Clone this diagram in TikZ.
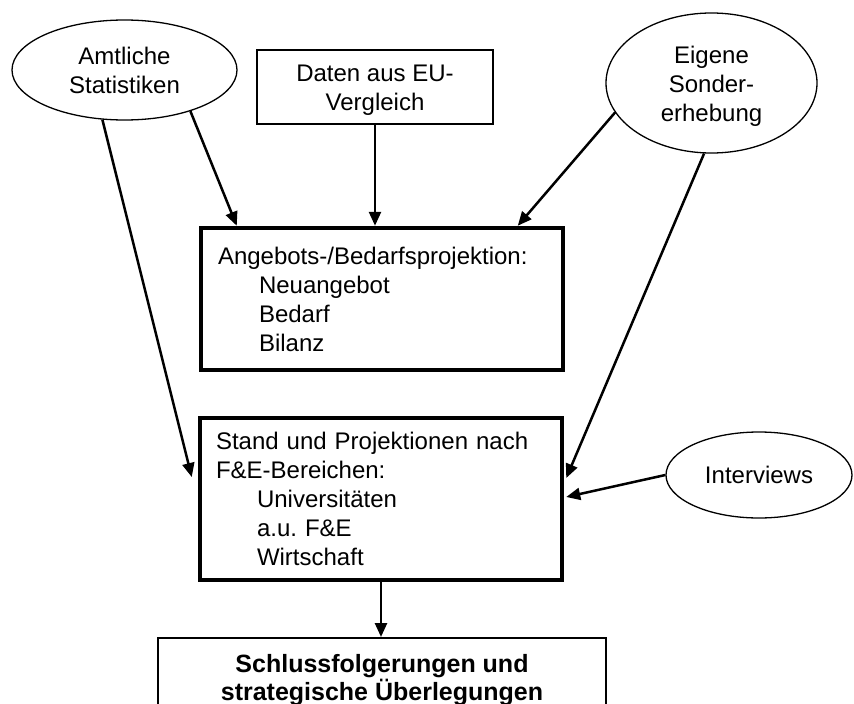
\documentclass[tikz,border=0pt]{standalone}
\usepackage{fontspec}
\setmainfont{Liberation Sans}
\usetikzlibrary{arrows.meta,calc,shapes.geometric}
\begin{document}
\begin{tikzpicture}[x=1pt,y=-1pt,
  txt/.style={font=\fontsize{24}{29}\selectfont},
  oval/.style={ellipse,draw,line width=1.3pt,inner sep=0pt,align=center,txt},
  thinbox/.style={rectangle,draw,line width=1.5pt,align=center,txt},
  thickbox/.style={rectangle,draw,line width=4.5pt,align=left,txt,inner xsep=0pt},
  arr/.style={line width=2.5pt,-{Triangle[length=14pt,width=12pt]}}
]
\clip (0,0) rectangle (854,704);
\fill[white] (0,0) rectangle (854,704);

\node[oval,minimum width=225pt,minimum height=100pt] (A) at (124.5,70) {Amtliche\\Statistiken};
\node[thinbox,minimum width=236pt,minimum height=74pt] (D) at (375,87) {\rule{0pt}{23.5pt}Daten aus EU-\\Vergleich};
\node[oval,minimum width=211pt,minimum height=140pt] (E) at (711.5,83) {\rule{0pt}{23pt}Eigene\\Sonder-\\erhebung};
\node[oval,minimum width=186pt,minimum height=86pt] (I) at (759,475) {Interviews};

\node[thickbox,minimum width=362pt,minimum height=142pt,text width=328pt] (B) at (382,299)
  {Angebots-/Bedarfsprojektion:\\\hspace*{41pt}Neuangebot\\\hspace*{41pt}Bedarf\\\hspace*{41pt}Bilanz};
\node[thickbox,minimum width=362pt,minimum height=162pt,text width=330pt] (S) at (381,499)
  {Stand und Projektionen nach\\F\&E-Bereichen:\\\hspace*{41pt}Universitäten\\\hspace*{41pt}a.u.\ F\&E\\\hspace*{41pt}Wirtschaft};

\node[rectangle,draw,line width=1.5pt,minimum width=448pt,inner ysep=17pt,anchor=north,align=center,
  font=\fontsize{25}{26}\selectfont\bfseries] (F) at (382,637)
  {Schlussfolgerungen und\\strategische Überlegungen};

\draw[arr] (A.-32.5) -- ([xshift=38pt]B.north west);
\draw[arr] (D.south) -- (D.south |- B.north);
\draw[arr] (E.197.4) -- ([xshift=319pt]B.north west);
\draw[arr] (A.-114.7) -- ([xshift=-6pt,yshift=22pt]S.west);
\draw[arr] (E.-96.5) -- ([xshift=2pt,yshift=21pt]S.east);
\draw[arr] (I.west) -- ([xshift=2pt,yshift=2pt]S.east);
\draw[arr] (S.south) -- (S.south |- F.north);
\end{tikzpicture}
\end{document}
